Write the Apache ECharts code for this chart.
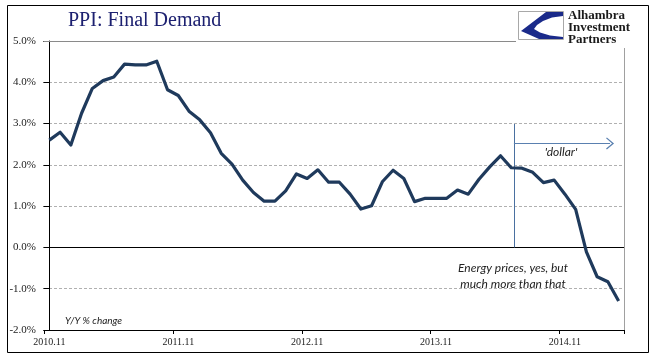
<!DOCTYPE html>
<html>
<head>
<meta charset="utf-8">
<script src="https://cdn.jsdelivr.net/npm/echarts@6/dist/echarts.min.js"></script>
<style>
html,body{margin:0;padding:0;background:#fff;}
#c{width:670px;height:358px;}
</style>
</head>
<body>
<div id="c"></div>
<script>
var months = ['2010.11','2010.12',
 '2011.01','2011.02','2011.03','2011.04','2011.05','2011.06','2011.07','2011.08','2011.09','2011.10','2011.11','2011.12',
 '2012.01','2012.02','2012.03','2012.04','2012.05','2012.06','2012.07','2012.08','2012.09','2012.10','2012.11','2012.12',
 '2013.01','2013.02','2013.03','2013.04','2013.05','2013.06','2013.07','2013.08','2013.09','2013.10','2013.11','2013.12',
 '2014.01','2014.02','2014.03','2014.04','2014.05','2014.06','2014.07','2014.08','2014.09','2014.10','2014.11','2014.12',
 '2015.01','2015.02','2015.03','2015.04'];
var ppiYoY = [2.60,2.79,2.48,3.25,3.85,4.04,4.13,4.44,4.42,4.42,
 4.51,3.82,3.68,3.30,3.09,2.78,2.28,2.02,1.63,1.33,
 1.12,1.12,1.37,1.78,1.67,1.88,1.58,1.58,1.29,0.93,
 1.01,1.59,1.87,1.67,1.11,1.19,1.19,1.19,1.39,1.29,
 1.65,1.95,2.22,1.93,1.92,1.82,1.57,1.63,1.29,0.92,
 -0.11,-0.71,-0.83,-1.30];
var yTicks = [-2,-1,0,1,2,3,4,5];
// annotation: 'dollar' marker position (month index, fractional) and levels
var dollarStart = 43.25, dollarArrowEnd = 52.2, dollarTop = 2.99, dollarArrowLevel = 2.52;

var chart = echarts.init(document.getElementById('c'), null, {renderer:'canvas'});
var serif = '"Liberation Serif", "DejaVu Serif", serif';
var italic = 'italic 12px Lato, "Open Sans", sans-serif';
var option = {
  animation:false,
  backgroundColor:'#fff',
  grid:{left:44,right:46,top:41,bottom:28,show:false},
  xAxis:[{
    type:'category', data:months, boundaryGap:true,
    axisLine:{show:true,onZero:false,lineStyle:{color:'#000',width:1}},
    axisTick:{show:true,interval:11,length:4,lineStyle:{color:'#000'}},
    axisLabel:{interval:11,fontFamily:serif,fontSize:10,color:'#222',margin:7},
    splitLine:{show:false}
  },{
    type:'value', min:-0.5, max:53.5, show:false
  }],
  yAxis:[{
    type:'value', min:yTicks[0], max:yTicks[yTicks.length-1], interval:1,
    axisLine:{show:true,lineStyle:{color:'#000',width:1}},
    axisTick:{show:true,length:6,lineStyle:{color:'#000'}},
    axisLabel:{fontFamily:serif,fontSize:11,color:'#222',margin:8,
      formatter:function(v){return v.toFixed(1)+'%';}},
    splitLine:{show:true,lineStyle:{color:'#b0b0b0',type:[3,2],width:1}}
  },{
    type:'value', position:'right', min:yTicks[0], max:yTicks[yTicks.length-1], interval:1,
    axisLine:{show:true,lineStyle:{color:'#a0a0a0',width:1}},
    axisTick:{show:false}, axisLabel:{show:false}, splitLine:{show:false}
  }],
  series:[{
    type:'line', data:ppiYoY, xAxisIndex:0, yAxisIndex:0,
    symbol:'none', smooth:false, z:5,
    lineStyle:{color:'#1f3a5c',width:3.2,join:'round'},
    markLine:{
      silent:true, symbol:['none','none'], animation:false,
      label:{show:false},
      data:[
        {yAxis:0, lineStyle:{color:'#000',width:1,type:'solid'}},
        {yAxis:5, lineStyle:{color:'#8a8a8a',width:1,type:'solid'}}
      ]
    }
  },{
    type:'line', xAxisIndex:1, yAxisIndex:0,
    data:[[dollarStart,0]], symbol:'none', lineStyle:{opacity:0}, z:4,
    markLine:{
      silent:true, animation:false, label:{show:false},
      data:[
        [{coord:[dollarStart,0],symbol:'none',lineStyle:{color:'#4a70a0',width:1,type:'solid'}},
         {coord:[dollarStart,dollarTop],symbol:'none'}],
        [{coord:[dollarStart,dollarArrowLevel],symbol:'none',lineStyle:{color:'#5a80b0',width:1,type:'solid'}},
         {coord:[dollarArrowEnd,dollarArrowLevel],
          symbol:'path://M0,50 L50,0 L100,50 L92,56 L50,14 L8,56 Z',symbolSize:[12,8]}]
      ]
    }
  }],
  graphic:[
    {type:'rect',shape:{x:7.5,y:5.5,width:641,height:347},style:{fill:'none',stroke:'#000',lineWidth:1},z:100},
    {type:'text',style:{x:68,y:21,text:'PPI: Final Demand',font:'20px '+serif,fill:'#1c2070',align:'left',verticalAlign:'middle'},z:100},
    {type:'rect',shape:{x:516,y:7,width:115,height:41},style:{fill:'#fff'},z:100},
    {type:'rect',shape:{x:518.5,y:11.5,width:45,height:28},style:{fill:'#fff',stroke:'#a8a8a8',lineWidth:1},z:101},
    {type:'polygon',shape:{points:[[546,12],[563,12],[563,16],[552,17.5],[543,21],[537,25],[534,29],[540,32.5],[550,35.5],[563,37],[563,39],[539,39],[530,35],[521,31]]},
      style:{fill:'#1a2a8a'},z:102},
    {type:'text',style:{x:568,y:16,text:'Alhambra',font:'bold 13px '+serif,fill:'#1a1a1a',align:'left',verticalAlign:'middle'},z:102},
    {type:'text',style:{x:568,y:28,text:'Investment',font:'bold 13px '+serif,fill:'#1a1a1a',align:'left',verticalAlign:'middle'},z:102},
    {type:'text',style:{x:568,y:40,text:'Partners',font:'bold 13px '+serif,fill:'#1a1a1a',align:'left',verticalAlign:'middle'},z:102},
    {type:'text',style:{x:561,y:152,text:"'dollar'",font:italic,fill:'#222',align:'center',verticalAlign:'middle'},z:100},
    {type:'text',style:{x:513,y:268,text:'Energy prices, yes, but',font:italic,fill:'#222',align:'center',verticalAlign:'middle'},z:100},
    {type:'text',style:{x:513,y:284,text:'much more than that',font:italic,fill:'#222',align:'center',verticalAlign:'middle'},z:100},
    {type:'text',style:{x:65,y:321,text:'Y/Y % change',font:'italic 10px Lato, "Open Sans", sans-serif',fill:'#222',align:'left',verticalAlign:'middle'},z:100}
  ]
};
chart.setOption(option);
</script>
</body>
</html>
